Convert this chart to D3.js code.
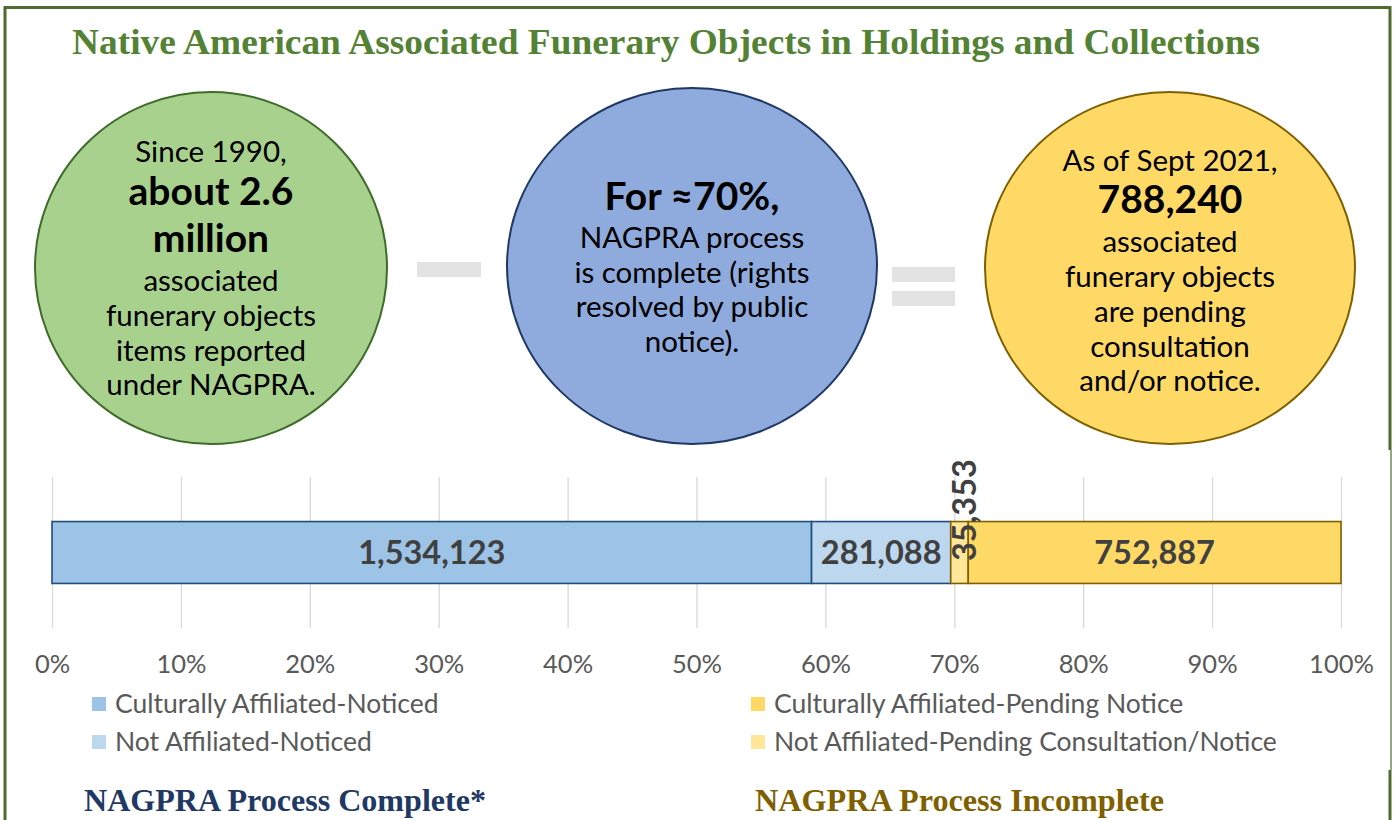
<!DOCTYPE html>
<html>
<head>
<meta charset="utf-8">
<script src="https://cdn.jsdelivr.net/npm/d3@7"></script>
<style>
  html, body { margin: 0; padding: 0; background: #fff; }
  svg { display: block; }
</style>
</head>
<body>
<div id="chart"></div>
<script>
// Data
const categories = [
  'Culturally Affiliated-Noticed',
  'Not Affiliated-Noticed',
  'Not Affiliated-Pending Consultation/Notice',
  'Culturally Affiliated-Pending Notice'
];
const values = [1534123, 281088, 35353, 752887];
const tickValues = [0, 0.1, 0.2, 0.3, 0.4, 0.5, 0.6, 0.7, 0.8, 0.9, 1];
const legendOrder = [
  'Culturally Affiliated-Noticed',
  'Not Affiliated-Noticed',
  'Culturally Affiliated-Pending Notice',
  'Not Affiliated-Pending Consultation/Notice'
];
const title = 'Native American Associated Funerary Objects in Holdings and Collections';
const greenLines = [
  ['Since 1990,', false], ['about 2.6', true], ['million', true],
  ['associated', false], ['funerary objects', false], ['items reported', false], ['under NAGPRA.', false]
];
const blueLines = [
  ['For \u224870%,', true], ['NAGPRA process', false], ['is complete (rights', false],
  ['resolved by public', false], ['notice).', false]
];
const yellowLines = [
  ['As of Sept 2021,', false], ['788,240', true], ['associated', false],
  ['funerary objects', false], ['are pending', false], ['consultation', false], ['and/or notice.', false]
];
const footers = ['NAGPRA Process Complete*', 'NAGPRA Process Incomplete'];

// Styles
const W = 1395, H = 820;
const fill = d3.scaleOrdinal().domain(categories)
  .range(['#9dc3e6', '#bdd7ee', '#ffe699', '#ffd966']);
const edge = d3.scaleOrdinal().domain(categories)
  .range(['#1f4e79', '#1f4e79', '#7f6000', '#7f6000']);
const sans = 'Lato, "Open Sans", sans-serif';
const serif = '"Liberation Serif", "Times New Roman", serif';
const frameColor = '#4f6b2f';

const svg = d3.select('#chart').append('svg')
  .attr('width', W).attr('height', H);

// Frame
const frame = svg.append('g').attr('fill', 'none').attr('stroke', frameColor);
frame.append('path').attr('stroke-width', 3)
  .attr('d', 'M5,820 L5,7.5 L1390,7.5 L1390,450');
frame.append('path').attr('stroke-width', 1.2).attr('d', 'M1391,450 L1391,770');
frame.append('path').attr('stroke-width', 3).attr('d', 'M1390,770 L1390,820');

// Title
svg.append('text')
  .attr('x', 72).attr('y', 54)
  .attr('textLength', 1188).attr('lengthAdjust', 'spacingAndGlyphs')
  .attr('font-family', serif).attr('font-weight', 'bold')
  .attr('font-size', 36).attr('fill', '#548235')
  .text(title);

// Bubbles
function bubble(cx, cy, rx, ry, color, stroke, lines, y0, gaps) {
  svg.append('ellipse')
    .attr('cx', cx).attr('cy', cy).attr('rx', rx).attr('ry', ry)
    .attr('fill', color).attr('stroke', stroke).attr('stroke-width', 2);
  let y = y0;
  lines.forEach(([t, bold], i) => {
    if (i > 0) y += gaps[i - 1];
    svg.append('text')
      .attr('x', cx).attr('y', y)
      .attr('text-anchor', 'middle')
      .attr('font-family', sans)
      .attr('font-weight', bold ? 'bold' : 'normal')
      .attr('font-size', bold ? 39 : 29.5)
      .attr('fill', '#000')
      .text(t);
  });
}
bubble(211, 268, 176, 176, '#a9d18e', '#3e6b2a', greenLines, 162, [43, 47, 39, 35, 35, 34]);
bubble(692, 266, 185, 178, '#8faadc', '#1f3864', blueLines, 210, [38, 35, 34, 35]);
bubble(1170, 268, 185, 176, '#ffd966', '#7f6000', yellowLines, 171, [42, 39, 35, 35, 35, 34]);

// Minus and equals signs
svg.append('rect').attr('x', 417).attr('y', 262).attr('width', 64).attr('height', 15).attr('fill', '#e3e3e3');
svg.append('rect').attr('x', 892).attr('y', 267).attr('width', 63).attr('height', 15).attr('fill', '#e3e3e3');
svg.append('rect').attr('x', 892).attr('y', 291).attr('width', 63).attr('height', 15).attr('fill', '#e3e3e3');

// Stacked 100% bar
const total = d3.sum(values);
const x = d3.scaleLinear().domain([0, 1]).range([52, 1341]);
const y = d3.scaleBand().domain(['all']).range([477, 628]).paddingInner(0).paddingOuter(0.72);
const ends = d3.cumsum(values);
const segs = categories.map((c, i) => ({
  cat: c, value: values[i],
  x0: (ends[i] - values[i]) / total, x1: ends[i] / total
}));

// Gridlines and tick labels
svg.append('g')
  .attr('transform', 'translate(0,628)')
  .call(d3.axisBottom(x).tickValues(tickValues).tickSize(-151).tickFormat(d3.format('.0%')).tickPadding(27))
  .call(g => g.select('.domain').remove())
  .call(g => g.selectAll('.tick line').attr('stroke', '#d9d9d9').attr('stroke-width', 1.3))
  .call(g => g.selectAll('.tick text')
    .attr('fill', '#595959').attr('font-size', 25.5).attr('font-family', sans));

svg.append('g').selectAll('rect').data(segs).join('rect')
  .attr('x', d => x(d.x0)).attr('width', d => x(d.x1) - x(d.x0))
  .attr('y', y('all')).attr('height', y.bandwidth())
  .attr('fill', d => fill(d.cat))
  .attr('stroke', d => edge(d.cat)).attr('stroke-width', 1.6);

// Segment labels
const lab = svg.append('g')
  .attr('font-family', sans).attr('font-weight', 'bold')
  .attr('font-size', 32.5).attr('fill', '#404040');
segs.forEach(d => {
  const cx = (x(d.x0) + x(d.x1)) / 2;
  const cy = y('all') + y.bandwidth() / 2;
  const s = d3.format(',')(d.value);
  if (x(d.x1) - x(d.x0) < 40) {
    lab.append('text')
      .attr('transform', `translate(${cx + 5},561) rotate(-90)`)
      .attr('dy', '0.35em')
      .attr('text-anchor', 'start')
      .text(s);
  } else {
    lab.append('text')
      .attr('x', cx).attr('y', cy).attr('dy', '0.36em')
      .attr('text-anchor', 'middle')
      .text(s);
  }
});

// Legend
const legend = svg.append('g').attr('font-family', sans).attr('font-size', 26.5).attr('fill', '#595959');
legendOrder.forEach((c, i) => {
  const lx = i < 2 ? 92 : 751;
  const ly = 704 + (i % 2) * 38;
  legend.append('rect').attr('x', lx).attr('y', ly - 7).attr('width', 14).attr('height', 14).attr('fill', fill(c));
  legend.append('text').attr('x', lx + 23).attr('y', ly).attr('dy', '0.35em').text(c);
});

// Footers
svg.append('text').attr('x', 84).attr('y', 811)
  .attr('textLength', 402).attr('lengthAdjust', 'spacingAndGlyphs')
  .attr('font-family', serif).attr('font-weight', 'bold').attr('font-size', 31)
  .attr('fill', '#1f3864').text(footers[0]);
svg.append('text').attr('x', 755).attr('y', 811)
  .attr('textLength', 409).attr('lengthAdjust', 'spacingAndGlyphs')
  .attr('font-family', serif).attr('font-weight', 'bold').attr('font-size', 31)
  .attr('fill', '#7f6000').text(footers[1]);
</script>
</body>
</html>
